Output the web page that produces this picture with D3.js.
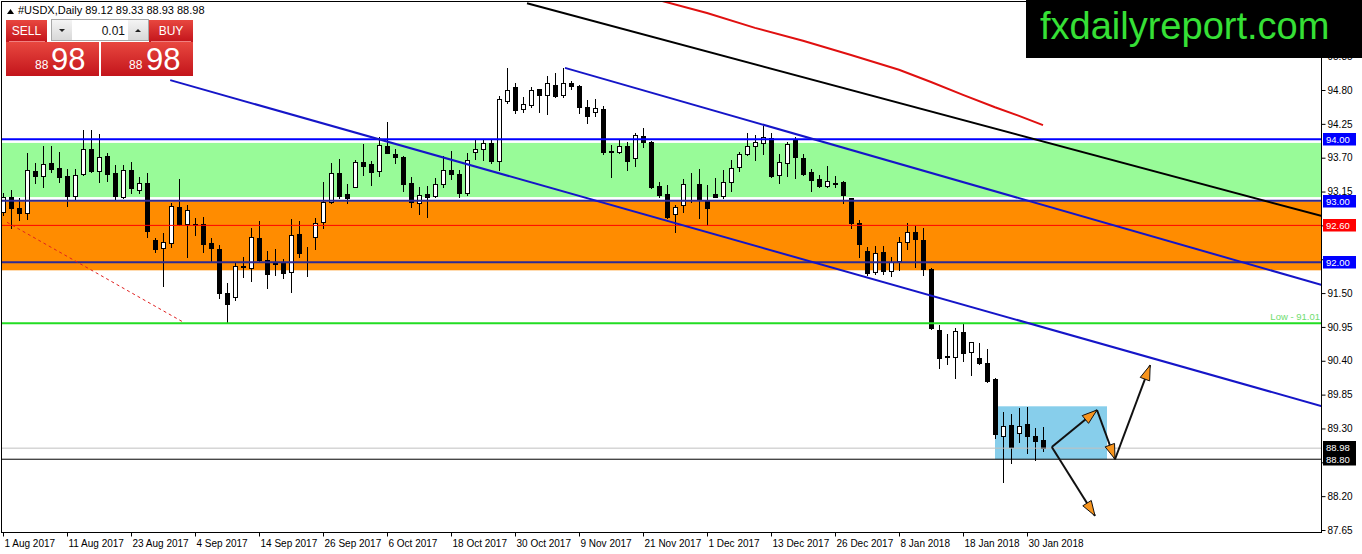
<!DOCTYPE html>
<html><head><meta charset="utf-8">
<script src="https://cdn.jsdelivr.net/npm/d3@7"></script>
<style>
body{margin:0;background:#fff;}
svg{display:block;}
text{font-family:"Liberation Sans",Arial,sans-serif;}
</style></head><body>
<svg id="c" width="1362" height="554"></svg>
<script>
// ---------- DATA ----------
const symbolTitle = "#USDX,Daily";
const lastOHLC = ["89.12", "89.33", "88.93", "88.98"];
const dateLabels = ["1 Aug 2017","11 Aug 2017","23 Aug 2017","4 Sep 2017","14 Sep 2017","26 Sep 2017","6 Oct 2017","18 Oct 2017","30 Oct 2017","9 Nov 2017","21 Nov 2017","1 Dec 2017","13 Dec 2017","26 Dec 2017","8 Jan 2018","18 Jan 2018","30 Jan 2018"];
const dateLabelBars = [0,8,16,24,32,40,48,56,64,72,80,88,96,104,112,120,128];
const priceTicks = [87.65,88.20,88.75,89.30,89.85,90.40,90.95,91.50,92.05,92.60,93.15,93.70,94.25,94.80,95.35];
// tick labels hidden behind price tags in the reference
const hiddenTickLabels = [88.75, 92.05, 92.60];

const open  = [92.82,93.06,92.88,92.80,93.48,93.40,93.61,93.53,93.40,93.08,93.44,93.84,93.48,93.73,93.45,93.06,93.50,93.18,93.29,92.36,92.23,92.31,92.90,92.62,92.62,92.62,92.31,92.22,91.50,91.44,91.93,91.91,92.39,92.04,92.01,92.01,91.84,92.46,92.17,92.41,92.65,92.98,93.45,93.11,93.22,93.63,93.60,93.48,93.89,93.76,93.71,93.29,92.96,93.11,93.08,93.27,93.50,93.44,93.13,93.79,93.84,93.94,93.65,94.62,94.85,94.49,94.56,94.82,94.72,94.88,94.72,94.91,94.87,94.52,94.44,94.49,93.81,93.79,93.89,93.70,94.05,93.95,93.24,93.11,92.78,92.93,93.26,93.27,93.01,93.11,93.08,93.31,93.55,93.76,93.89,93.94,94.02,93.42,93.61,94.00,93.70,93.47,93.35,93.24,93.29,93.31,93.04,92.64,92.18,91.84,92.17,91.86,92.02,92.33,92.49,92.36,91.89,90.90,90.47,90.46,90.87,90.54,90.45,90.36,90.10,89.18,89.36,89.23,89.37,89.18,89.12];
const high  = [93.13,93.18,93.05,93.78,93.61,93.89,93.89,93.79,93.52,93.52,94.15,94.15,94.09,93.78,93.58,93.58,93.63,93.39,93.45,92.39,92.48,92.96,93.35,92.93,92.72,92.74,92.39,92.28,91.66,91.99,92.09,92.56,92.67,92.18,92.22,92.05,92.70,92.67,92.25,92.72,93.31,93.61,93.68,93.27,93.66,93.92,93.65,94.04,94.28,93.84,93.72,93.39,93.22,93.24,93.37,93.73,93.81,93.50,93.78,93.99,93.99,93.99,94.70,95.16,94.91,94.69,94.85,94.82,95.03,95.08,95.16,94.95,94.88,94.64,94.65,94.54,93.91,94.00,93.96,94.10,94.18,93.97,93.30,93.26,92.93,93.35,93.45,93.52,93.26,93.37,93.50,93.66,93.79,94.10,94.07,94.21,94.10,93.76,93.95,94.04,93.76,93.52,93.42,93.56,93.40,93.32,93.05,92.69,92.25,92.27,92.27,92.09,92.41,92.64,92.59,92.56,91.91,90.98,90.83,90.93,91.00,90.70,90.69,90.59,90.12,89.57,89.53,89.63,89.65,89.31,89.33];
const low   = [92.77,92.56,92.69,92.70,93.29,93.22,93.47,93.31,92.92,93.01,93.42,93.47,93.31,93.32,93.03,93.05,93.13,93.13,92.41,92.17,91.61,92.25,92.60,92.09,92.44,92.17,92.00,91.42,91.01,91.39,91.76,91.70,92.00,91.58,91.79,91.75,91.52,92.09,91.78,92.22,92.56,92.96,93.05,92.96,93.22,93.42,93.26,93.40,93.77,93.61,93.16,92.90,92.78,92.74,93.06,93.22,93.35,93.06,93.09,93.68,93.66,93.61,93.50,94.59,94.43,94.44,94.52,94.44,94.41,94.69,94.69,94.82,94.43,94.26,94.38,93.76,93.39,93.78,93.50,93.57,93.87,93.21,93.06,92.72,92.49,92.82,92.98,92.72,92.61,93.06,93.05,93.16,93.48,93.74,93.66,93.76,93.39,93.29,93.40,93.37,93.42,93.16,93.22,93.22,93.22,92.96,92.56,92.09,91.79,91.81,91.81,91.78,91.88,92.22,91.92,91.79,90.92,90.28,90.35,90.12,90.40,90.17,90.35,90.05,89.15,88.43,88.74,89.08,88.90,88.79,88.93];
const close = [93.06,92.88,92.80,93.50,93.40,93.60,93.52,93.39,93.08,93.42,93.84,93.48,93.71,93.44,93.08,93.50,93.21,93.29,92.51,92.22,92.33,92.92,92.62,92.85,92.61,92.30,92.23,91.50,91.32,91.94,91.94,92.41,92.04,91.81,91.98,91.83,92.44,92.15,92.16,92.64,92.98,93.45,93.08,93.05,93.63,93.57,93.47,93.91,93.78,93.71,93.27,92.98,93.09,93.06,93.27,93.50,93.44,93.13,93.66,93.84,93.94,93.65,94.65,94.80,94.48,94.57,94.80,94.72,94.91,94.70,94.91,94.87,94.52,94.38,94.51,93.79,93.80,93.89,93.65,94.07,93.95,93.22,93.09,92.74,92.90,93.27,93.25,93.03,92.88,93.06,93.31,93.53,93.76,93.89,93.95,94.04,93.40,93.63,93.92,93.71,93.44,93.34,93.24,93.32,93.27,93.09,92.64,92.30,91.83,92.15,91.86,92.01,92.33,92.49,92.38,91.89,90.93,90.45,90.46,90.88,90.53,90.70,90.36,90.07,89.21,89.34,89.00,89.34,89.18,89.10,88.98];

// moving average (red curve), read at selected bars
const maBars   = [82, 88, 94, 100, 106, 112, 116, 120, 124, 127, 130];
const maValues = [96.26, 96.05, 95.81, 95.60, 95.37, 95.13, 94.93, 94.72, 94.52, 94.38, 94.23];

// horizontal levels
const blueLevels = [94.00, 93.00, 92.00];
const redLevel = 92.60;
const lowLevel = 91.01;
const bidLevel = 88.98;
const markLevel = 88.80;

// zones [top price, bottom price]
const greenZone = [93.94, 93.06];
const orangeZone = [92.99, 91.87];
// target box [bar from, bar to, price top, price bottom]
const targetBox = [124, 138, 89.66, 88.80];

// trend lines [bar1, price1, bar2, price2]
const blackTrend = [65.5, 96.21, 164.875, 92.75];
const upperChannel = [70.25, 95.16, 164.875, 91.63];
const lowerChannel = [20.9, 94.96, 164.875, 89.66];
const redDashed = [0.5, 92.65, 22.5, 91.03];

// arrows [bar1, price1, bar2, price2]
const arrows = [
  [131.1, 89.00, 136.75, 89.60],
  [136.75, 89.60, 139.0, 88.80],
  [139.0, 88.80, 143.4, 90.33],
  [131.1, 89.00, 136.5, 87.88]
];

// right-side price labels [price, colour]
const priceTags = [[94.00,"#0000ff"],[93.00,"#0000ff"],[92.60,"#ff0000"],[92.00,"#0000ff"],[88.98,"#000000"],[88.80,"#000000"]];

// ---------- DRAW ----------
const svg = d3.select("#c");
const L = 2, T = 2, R = 1322, B = 533;
const x = d3.scaleLinear().domain([0, 164.875]).range([3, 1322]);
const y = d3.scaleLinear().domain([87.65, 94.80]).range([530, 90]);

const defs = svg.append("defs");
defs.append("clipPath").attr("id","plotclip").append("rect").attr("x",L).attr("y",T).attr("width",R-L).attr("height",B-T);
const rg = defs.append("linearGradient").attr("id","redg").attr("x1",0).attr("y1",0).attr("x2",0).attr("y2",1);
rg.append("stop").attr("offset","0%").attr("stop-color","#e8473f");
rg.append("stop").attr("offset","100%").attr("stop-color","#c3141b");
const gg = defs.append("linearGradient").attr("id","grayg").attr("x1",0).attr("y1",0).attr("x2",0).attr("y2",1);
gg.append("stop").attr("offset","0%").attr("stop-color","#f4f4f4");
gg.append("stop").attr("offset","100%").attr("stop-color","#d8d8d8");

svg.append("rect").attr("width",1362).attr("height",554).attr("fill","#fff");

const plot = svg.append("g").attr("clip-path","url(#plotclip)");

// zones
plot.append("rect").attr("x",L).attr("width",R-L)
  .attr("y",y(greenZone[0])).attr("height",y(greenZone[1])-y(greenZone[0])).attr("fill","#98fb98");
plot.append("rect").attr("x",L).attr("width",R-L)
  .attr("y",y(orangeZone[0])).attr("height",y(orangeZone[1])-y(orangeZone[0])).attr("fill","#ff8c00");
plot.append("rect").attr("x",x(targetBox[0])).attr("width",x(targetBox[1])-x(targetBox[0]))
  .attr("y",y(targetBox[2])).attr("height",y(targetBox[3])-y(targetBox[2])).attr("fill","#87ceeb");

// candles
const bars = open.map((o,i)=>({i, o, h:high[i], l:low[i], c:close[i]}));
const cg = plot.append("g").attr("shape-rendering","crispEdges");
cg.selectAll("line.w").data(bars).join("line").attr("class","w")
  .attr("x1",d=>Math.round(x(d.i))+0.5).attr("x2",d=>Math.round(x(d.i))+0.5)
  .attr("y1",d=>Math.round(y(d.h))).attr("y2",d=>Math.round(y(d.l))+1)
  .attr("stroke","#000").attr("stroke-width",1);
cg.selectAll("rect.b").data(bars).join("rect").attr("class","b")
  .attr("x",d=>Math.round(x(d.i))-1.5)
  .attr("y",d=>Math.round(y(Math.max(d.o,d.c)))+0.5)
  .attr("width",4)
  .attr("height",d=>Math.max(0, Math.round(y(Math.min(d.o,d.c)))-Math.round(y(Math.max(d.o,d.c)))))
  .attr("fill",d=>d.c>d.o?"#fff":"#000").attr("stroke","#000").attr("stroke-width",1);

// horizontal lines
function hline(p, color, w){
  plot.append("line").attr("x1",L).attr("x2",R).attr("y1",y(p)).attr("y2",y(p))
    .attr("stroke",color).attr("stroke-width",w);
}
hline(redLevel, "#ff0000", 1);
hline(bidLevel, "#c0c0c0", 1);
hline(markLevel, "#000000", 1);
hline(lowLevel, "#22dd22", 2);
blueLevels.forEach((p,k)=>hline(p, k===0?"#0000ff":"#2c2a92", 2));

// trend lines
function seg(s, color, w, dash){
  const l = plot.append("line").attr("x1",x(s[0])).attr("y1",y(s[1])).attr("x2",x(s[2])).attr("y2",y(s[3]))
    .attr("stroke",color).attr("stroke-width",w);
  if(dash) l.attr("stroke-dasharray",dash);
}
seg(redDashed, "#e02020", 1, "3,3");
seg(lowerChannel, "#1515c8", 2);
seg(upperChannel, "#1515c8", 2);
seg(blackTrend, "#000000", 2);

// moving average
plot.append("path").datum(maBars.map((b,k)=>[b,maValues[k]]))
  .attr("d", d3.line().x(d=>x(d[0])).y(d=>y(d[1])))
  .attr("fill","none").attr("stroke","#e01010").attr("stroke-width",2);

// arrows
arrows.forEach(a=>{
  const x1=x(a[0]), y1=y(a[1]), x2=x(a[2]), y2=y(a[3]);
  plot.append("line").attr("x1",x1).attr("y1",y1).attr("x2",x2).attr("y2",y2)
    .attr("stroke","#111").attr("stroke-width",2);
  const ang=Math.atan2(y2-y1,x2-x1), len=15, hw=5;
  const bx=x2-len*Math.cos(ang), by=y2-len*Math.sin(ang);
  const pts=[[x2,y2],[bx+hw*Math.sin(ang),by-hw*Math.cos(ang)],[bx-hw*Math.sin(ang),by+hw*Math.cos(ang)]];
  plot.append("polygon").attr("points",pts.map(p=>p.join(",")).join(" "))
    .attr("fill","#f7941d").attr("stroke","#111").attr("stroke-width",1);
});

// frame
svg.append("rect").attr("x",L-0.5).attr("y",T-0.5).attr("width",R-L).attr("height",B-T)
  .attr("fill","none").attr("stroke","#000").attr("stroke-width",1);

// right axis
const ya = svg.append("g").attr("transform",`translate(${R-0.5},0)`)
  .call(d3.axisRight(y).tickValues(priceTicks).tickSize(4).tickPadding(2)
    .tickFormat(d=>hiddenTickLabels.includes(d)?"":d3.format(".2f")(d)));
ya.select(".domain").remove();
ya.selectAll("text").attr("font-family","Liberation Sans, Arial, sans-serif").attr("font-size",10).attr("fill","#000");
ya.selectAll("line").attr("stroke","#000");

// bottom axis
const xa = svg.append("g").attr("transform",`translate(0,${B-0.5})`)
  .call(d3.axisBottom(x).tickValues(dateLabelBars).tickSize(4).tickPadding(3).tickFormat((d,k)=>dateLabels[k]));
xa.select(".domain").remove();
xa.selectAll("text").attr("text-anchor","start").attr("dx",1)
  .attr("font-family","Liberation Sans, Arial, sans-serif").attr("font-size",10).attr("fill","#000");
xa.selectAll("line").attr("stroke","#000");

// low label
svg.append("text").attr("x",R-2).attr("y",y(lowLevel)-3).attr("text-anchor","end")
  .attr("font-size",9.5).attr("fill","#70dd70").text("Low - " + lowLevel.toFixed(2));

// price tags
priceTags.forEach(t=>{
  const yy=Math.round(y(t[0])) + (t[0]===bidLevel ? -1 : 0);
  svg.append("rect").attr("x",R+1).attr("y",yy-6).attr("width",33).attr("height",12.5).attr("fill",t[1]);
  svg.append("text").attr("x",R+4).attr("y",yy+3.5).attr("font-size",9.5).attr("fill","#fff").text(t[0].toFixed(2));
});

// logo
svg.append("rect").attr("x",1026).attr("y",0).attr("width",336).attr("height",58).attr("fill","#000");
svg.append("text").attr("x",1040).attr("y",39).attr("font-size",38).attr("fill","#36e036")
  .attr("font-family","Liberation Sans, Arial, sans-serif").text("fxdailyreport.com");

// header
svg.append("polygon").attr("points","7,14 10.5,9 14,14").attr("fill","#000");
svg.append("text").attr("x",18).attr("y",14).attr("font-size",11).attr("fill","#000")
  .text(symbolTitle + "  " + lastOHLC.join(" "));

// trade widget
const w = svg.append("g");
w.append("rect").attr("x",6).attr("y",20).attr("width",41).attr("height",22).attr("fill","url(#redg)");
w.append("rect").attr("x",149).attr("y",20).attr("width",44).attr("height",22).attr("fill","url(#redg)");
w.append("line").attr("x1",9).attr("x2",45).attr("y1",41.5).attr("y2",41.5).attr("stroke","#f08080");
w.append("line").attr("x1",151).attr("x2",191).attr("y1",41.5).attr("y2",41.5).attr("stroke","#f08080");
w.append("text").attr("x",26.5).attr("y",35).attr("text-anchor","middle").attr("font-size",12).attr("fill","#fff").text("SELL");
w.append("text").attr("x",171).attr("y",35).attr("text-anchor","middle").attr("font-size",12).attr("fill","#fff").text("BUY");
w.append("rect").attr("x",51.5).attr("y",19.5).attr("width",97).attr("height",21).attr("fill","#fff").attr("stroke","#a8a8a8");
w.append("rect").attr("x",52).attr("y",20).attr("width",20).attr("height",20).attr("fill","url(#grayg)");
w.append("rect").attr("x",128).attr("y",20).attr("width",20).attr("height",20).attr("fill","url(#grayg)");
w.append("polygon").attr("points","59,29 65,29 62,32").attr("fill","#222");
w.append("polygon").attr("points","135,32 141,32 138,29").attr("fill","#222");
w.append("text").attr("x",125).attr("y",35).attr("text-anchor","end").attr("font-size",12).attr("fill","#111").text("0.01");
w.append("rect").attr("x",6).attr("y",42).attr("width",93).attr("height",34).attr("fill","url(#redg)");
w.append("rect").attr("x",101).attr("y",42).attr("width",92).attr("height",34).attr("fill","url(#redg)");
const bidParts = [lastOHLC[3].slice(0,2), lastOHLC[3].slice(3)];
w.append("text").attr("x",35).attr("y",69).attr("font-size",12).attr("fill","#fff").text(bidParts[0]);
w.append("text").attr("x",51).attr("y",70).attr("font-size",31).attr("fill","#fff").text(bidParts[1]);
w.append("text").attr("x",129).attr("y",69).attr("font-size",12).attr("fill","#fff").text(bidParts[0]);
w.append("text").attr("x",146).attr("y",70).attr("font-size",31).attr("fill","#fff").text(bidParts[1]);
</script>
</body></html>
